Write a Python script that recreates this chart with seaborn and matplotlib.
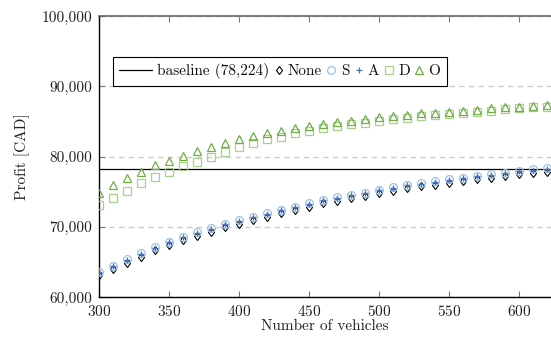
import numpy as np
import pandas as pd
import matplotlib
matplotlib.use("Agg")
import matplotlib.pyplot as plt
import seaborn as sns
from matplotlib.ticker import FuncFormatter

# ---------------- data ----------------
vehicles = [300, 310, 320, 330, 340, 350, 360, 370, 380, 390, 400,
            410, 420, 430, 440, 450, 460, 470, 480, 490, 500,
            510, 520, 530, 540, 550, 560, 570, 580, 590, 600, 610, 620]

profit_none = [63150, 64000, 64910, 65760, 66620, 67370, 68080, 68750, 69320, 69930, 70450,
               70930, 71450, 71930, 72400, 72880, 73350, 73730, 74060, 74390, 74770,
               75150, 75480, 75750, 76010, 76290, 76480, 76760, 77000, 77230, 77510, 77710, 77860]
profit_s = [63600, 64450, 65360, 66210, 67070, 67820, 68530, 69200, 69770, 70380, 70900,
            71380, 71900, 72380, 72850, 73330, 73800, 74180, 74510, 74840, 75220,
            75600, 75930, 76200, 76460, 76740, 76930, 77210, 77450, 77680, 77960, 78160, 78310]
profit_a = [63550, 64400, 65300, 66150, 67000, 67760, 68480, 69150, 69720, 70330, 70850,
            71330, 71850, 72330, 72800, 73280, 73750, 74130, 74460, 74790, 75170,
            75550, 75880, 76150, 76410, 76690, 76880, 77160, 77400, 77630, 77910, 78110, 78260]
profit_d = [73090, 74110, 75080, 76170, 77100, 77820, 78630, 79250, 79990, 80700, 81380,
            81950, 82430, 82800, 83290, 83610, 84000, 84320, 84610, 84830, 85080,
            85280, 85490, 85700, 85890, 86030, 86220, 86360, 86500, 86700, 86840, 86990, 87070]
profit_o = [74850, 75930, 76890, 77780, 78730, 79390, 80100, 80770, 81340, 81910, 82430,
            82900, 83290, 83660, 84000, 84320, 84610, 84940, 85110, 85390, 85560,
            85750, 85960, 86130, 86220, 86360, 86500, 86670, 86840, 86990, 87070, 87170, 87270]

baseline_value = 78224
series_labels = ["None", "S", "A", "D", "O"]
x_ticks = [300, 350, 400, 450, 500, 550, 600]
y_ticks = [60000, 70000, 80000, 90000, 100000]

df = pd.DataFrame({
    "vehicles": vehicles * 5,
    "profit": profit_none + profit_s + profit_a + profit_d + profit_o,
    "strategy": sum([[lab] * len(vehicles) for lab in series_labels], []),
})

# ---------------- style ----------------
sns.set_theme(style="white")
plt.rcParams["font.family"] = ["cmr10", "DejaVu Serif"]
plt.rcParams["mathtext.fontset"] = "cm"
plt.rcParams["axes.formatter.use_mathtext"] = True

styles = {
    "None": dict(marker="d", markersize=4.4, color="#000000", mew=0.8),
    "S":    dict(marker="o", markersize=5.6, color="#9dc3e6", mew=0.9),
    "A":    dict(marker="+", markersize=5.0, color="#4472c4", mew=0.9),
    "D":    dict(marker="s", markersize=5.6, color="#a9d18e", mew=0.9),
    "O":    dict(marker="^", markersize=5.2, color="#70ad47", mew=0.9),
}

fig = plt.figure(figsize=(5.51, 3.43), dpi=100)
ax = fig.add_axes([99 / 551, 1 - 297 / 343, 452 / 551, 281 / 343])

base_line = ax.axhline(baseline_value, color="black", lw=0.9, zorder=2,
                       label=f"baseline ({baseline_value:,})")

handles = [base_line]
for lab in series_labels:
    st = styles[lab]
    sub = df[df["strategy"] == lab]
    sns.lineplot(data=sub, x="vehicles", y="profit", ax=ax, estimator=None,
                 errorbar=None, linestyle="", marker=st["marker"],
                 markersize=st["markersize"], markerfacecolor="none",
                 markeredgecolor=st["color"], markeredgewidth=st["mew"],
                 color=st["color"], label=lab, legend=False, zorder=3)
    handles.append(ax.get_lines()[-1])

ax.set_xlim(300, 623)
ax.set_ylim(60000, 100000)
ax.set_xticks(x_ticks)
ax.set_yticks(y_ticks)
ax.yaxis.set_major_formatter(FuncFormatter(lambda v, p: f"{int(v):,}"))

ax.yaxis.grid(True, linestyle=(0, (4, 3)), color="#cccccc", lw=1.0)
ax.xaxis.grid(False)
ax.set_axisbelow(True)

for side in ["left", "bottom"]:
    ax.spines[side].set_color("black")
    ax.spines[side].set_linewidth(1.0)
ax.spines["top"].set_color("#666666")
ax.spines["top"].set_linewidth(1.2)
ax.spines["right"].set_visible(False)

ax.tick_params(axis="x", direction="in", length=4, width=0.8, color="#777777",
               top=True, bottom=True, labelsize=11, pad=5, labelcolor="#222222")
ax.tick_params(axis="y", direction="in", length=4, width=0.8, color="#777777",
               left=True, right=False, labelsize=11, pad=5, labelcolor="#222222")

ax.set_xlabel("Number of vehicles", fontsize=11, color="#222222")
ax.set_ylabel("Profit [CAD]", fontsize=11, color="#222222")
ax.xaxis.set_label_coords(0.5, -0.080)
ax.yaxis.set_label_coords(-0.153, 0.5)

labels = [h.get_label() for h in handles]
leg = ax.legend(handles, labels, ncol=6, loc="upper left",
                bbox_to_anchor=(14 / 452, 240 / 281), borderaxespad=0,
                fontsize=11, frameon=True, fancybox=False, edgecolor="black",
                framealpha=1, handlelength=0.5, handletextpad=0.36,
                columnspacing=0.36, borderpad=0.42)
leg.get_frame().set_linewidth(0.8)
for t in leg.get_texts():
    t.set_color("#111111")

# widen the handle of the baseline entry so it shows a real line segment
try:
    fs = leg._fontsize
    new_w = 2.1 * fs
    col0 = leg._legend_handle_box.get_children()[0]
    item0 = col0.get_children()[0]
    da = item0.get_children()[0]
    da.width = new_w
    leg.legend_handles[0].set_xdata(np.linspace(0, new_w, 3))
except Exception:
    pass

fig.savefig("out.png", dpi=100)
